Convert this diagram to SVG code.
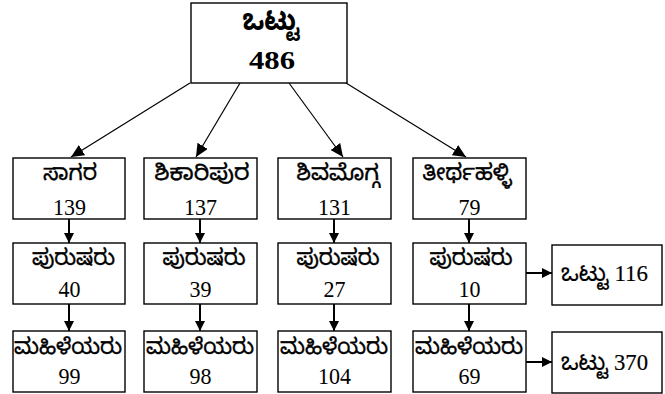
<svg xmlns="http://www.w3.org/2000/svg" width="665" height="394" viewBox="0 0 665 394">
<style>
.box{fill:#fff;stroke:#000;stroke-width:1.4}
.kn{font-family:"Noto Sans Kannada","Noto Serif Kannada","Noto Sans",sans-serif;font-size:22px;text-anchor:middle;fill:#000;stroke:#000;stroke-width:0.35}
.num{font-family:"Liberation Serif","Times New Roman",Tinos,serif;font-size:23px;text-anchor:middle;fill:#000}
.mix{font-family:"Liberation Serif","Noto Sans Kannada","Noto Serif Kannada",serif;font-size:24px;text-anchor:start;fill:#000;stroke:#000;stroke-width:0.2}
.b{font-weight:bold;stroke-width:0}
.ln{stroke:#000;stroke-width:1.2;fill:none}
.lv{stroke:#000;stroke-width:2;fill:none}
</style>
<defs>
<marker id="ah" markerUnits="userSpaceOnUse" markerWidth="14" markerHeight="12" refX="13" refY="6" orient="auto">
<path d="M0,0 L13,6 L0,12 Z" fill="#000"/>
</marker>
<marker id="ahs" markerUnits="userSpaceOnUse" markerWidth="11" markerHeight="10" refX="10" refY="5" orient="auto">
<path d="M0,0 L10,5 L0,10 Z" fill="#000"/>
</marker>
</defs>
<g id="connectors">
<line class="ln" x1="190" y1="83" x2="71" y2="157" marker-end="url(#ah)"/>
<line class="ln" x1="240" y1="83" x2="196" y2="157" marker-end="url(#ah)"/>
<line class="ln" x1="289" y1="83" x2="343" y2="157" marker-end="url(#ah)"/>
<line class="ln" x1="346" y1="83" x2="466" y2="157" marker-end="url(#ah)"/>
<line class="lv" x1="69" y1="219" x2="69" y2="243" marker-end="url(#ahs)"/>
<line class="lv" x1="200" y1="219" x2="200" y2="243" marker-end="url(#ahs)"/>
<line class="lv" x1="334" y1="219" x2="334" y2="243" marker-end="url(#ahs)"/>
<line class="lv" x1="469" y1="219" x2="469" y2="243" marker-end="url(#ahs)"/>
<line class="lv" x1="69" y1="304" x2="69" y2="331" marker-end="url(#ahs)"/>
<line class="lv" x1="200" y1="304" x2="200" y2="331" marker-end="url(#ahs)"/>
<line class="lv" x1="334" y1="304" x2="334" y2="331" marker-end="url(#ahs)"/>
<line class="lv" x1="469" y1="304" x2="469" y2="331" marker-end="url(#ahs)"/>
<line class="lv" x1="526" y1="273" x2="552" y2="273" marker-end="url(#ahs)"/>
<line class="lv" x1="526" y1="362" x2="552" y2="362" marker-end="url(#ahs)"/>
</g>
<g id="total">
<rect class="box" x="191" y="3" width="156" height="80"/>
<text class="kn b" x="271" y="30" style="font-size:29px" textLength="57" lengthAdjust="spacingAndGlyphs">ಒಟ್ಟು</text>
<text class="num b" x="272" y="69" style="font-size:25px" textLength="46" lengthAdjust="spacingAndGlyphs">486</text>
</g>
<g id="sagara">
<rect class="box" x="13" y="158" width="112" height="61"/>
<text class="kn" x="70" y="180" textLength="54" lengthAdjust="spacingAndGlyphs">ಸಾಗರ</text>
<text class="num" x="69.5" y="215" textLength="33" lengthAdjust="spacingAndGlyphs">139</text>
</g>
<g id="shikaripura">
<rect class="box" x="144" y="158" width="113" height="61"/>
<text class="kn" x="202" y="180" textLength="95" lengthAdjust="spacingAndGlyphs">ಶಿಕಾರಿಪುರ</text>
<text class="num" x="200.5" y="215" textLength="33" lengthAdjust="spacingAndGlyphs">137</text>
</g>
<g id="shivamogga">
<rect class="box" x="278" y="158" width="113" height="61"/>
<text class="kn" x="338" y="180" textLength="83" lengthAdjust="spacingAndGlyphs">ಶಿವಮೊಗ್ಗ</text>
<text class="num" x="334.5" y="215" textLength="33" lengthAdjust="spacingAndGlyphs">131</text>
</g>
<g id="thirthahalli">
<rect class="box" x="413" y="158" width="113" height="61"/>
<text class="kn" x="467" y="180" textLength="89" lengthAdjust="spacingAndGlyphs">ತೀರ್ಥಹಳ್ಳಿ</text>
<text class="num" x="469.5" y="215" textLength="22" lengthAdjust="spacingAndGlyphs">79</text>
</g>
<g id="purusharu1">
<rect class="box" x="13" y="243" width="112" height="61"/>
<text class="kn" x="73.5" y="265" textLength="83" lengthAdjust="spacingAndGlyphs">ಪುರುಷರು</text>
<text class="num" x="69.5" y="297" textLength="22" lengthAdjust="spacingAndGlyphs">40</text>
</g>
<g id="purusharu2">
<rect class="box" x="144" y="243" width="113" height="61"/>
<text class="kn" x="204" y="265" textLength="83" lengthAdjust="spacingAndGlyphs">ಪುರುಷರು</text>
<text class="num" x="200.5" y="297" textLength="22" lengthAdjust="spacingAndGlyphs">39</text>
</g>
<g id="purusharu3">
<rect class="box" x="278" y="243" width="113" height="61"/>
<text class="kn" x="338" y="265" textLength="83" lengthAdjust="spacingAndGlyphs">ಪುರುಷರು</text>
<text class="num" x="334.5" y="297" textLength="22" lengthAdjust="spacingAndGlyphs">27</text>
</g>
<g id="purusharu4">
<rect class="box" x="413" y="243" width="113" height="61"/>
<text class="kn" x="471" y="265" textLength="83" lengthAdjust="spacingAndGlyphs">ಪುರುಷರು</text>
<text class="num" x="469.5" y="297" textLength="22" lengthAdjust="spacingAndGlyphs">10</text>
</g>
<g id="mahileyaru1">
<rect class="box" x="13" y="331" width="112" height="61"/>
<text class="kn" x="68" y="354" textLength="108" lengthAdjust="spacingAndGlyphs">ಮಹಿಳೆಯರು</text>
<text class="num" x="69.5" y="384" textLength="22" lengthAdjust="spacingAndGlyphs">99</text>
</g>
<g id="mahileyaru2">
<rect class="box" x="144" y="331" width="113" height="61"/>
<text class="kn" x="200" y="354" textLength="108" lengthAdjust="spacingAndGlyphs">ಮಹಿಳೆಯರು</text>
<text class="num" x="200.5" y="384" textLength="22" lengthAdjust="spacingAndGlyphs">98</text>
</g>
<g id="mahileyaru3">
<rect class="box" x="278" y="331" width="113" height="61"/>
<text class="kn" x="334" y="354" textLength="108" lengthAdjust="spacingAndGlyphs">ಮಹಿಳೆಯರು</text>
<text class="num" x="334.5" y="384" textLength="33" lengthAdjust="spacingAndGlyphs">104</text>
</g>
<g id="mahileyaru4">
<rect class="box" x="413" y="331" width="113" height="61"/>
<text class="kn" x="469" y="354" textLength="108" lengthAdjust="spacingAndGlyphs">ಮಹಿಳೆಯರು</text>
<text class="num" x="469.5" y="384" textLength="22" lengthAdjust="spacingAndGlyphs">69</text>
</g>
<g id="total_male">
<rect class="box" x="552" y="245" width="110" height="60"/>
<text class="mix" x="561" y="281" textLength="87" lengthAdjust="spacingAndGlyphs">ಒಟ್ಟು 116</text>
</g>
<g id="total_female">
<rect class="box" x="552" y="332" width="110" height="61"/>
<text class="mix" x="561" y="370" textLength="87" lengthAdjust="spacingAndGlyphs">ಒಟ್ಟು 370</text>
</g>
</svg>
